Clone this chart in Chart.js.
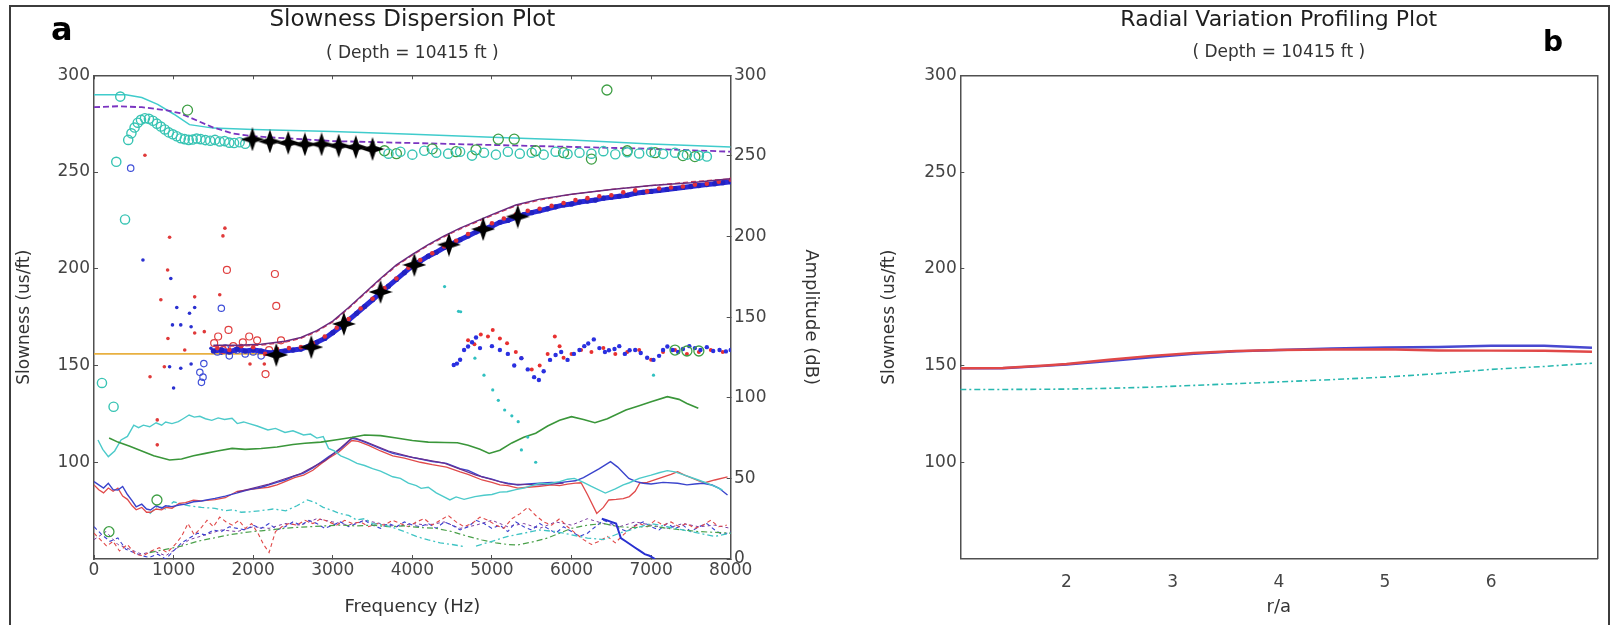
<!DOCTYPE html>
<html>
<head>
<meta charset="utf-8">
<title>Slowness Dispersion and Radial Variation Profiling</title>
<script src="https://cdn.jsdelivr.net/npm/chart.js@4.4.1/dist/chart.umd.min.js"></script>
<style>
  html, body { margin: 0; padding: 0; background: #ffffff; }
  #wrap { position: relative; width: 1610px; height: 625px; overflow: hidden; background: #fff; }
  canvas { position: absolute; top: 0; }
  #frame { position: absolute; left: 9px; top: 5px; width: 1597px; height: 660px; border: 2px solid #3c3c3c; pointer-events: none; }
  .panel { position: absolute; font-family: 'DejaVu Sans', sans-serif; font-weight: bold; color: #000; line-height: 1; }
</style>
</head>
<body>
<div id="wrap">
  <canvas id="disp" width="860" height="625" style="left:0"></canvas>
  <canvas id="radial" width="750" height="625" style="left:860px"></canvas>
  <div id="frame"></div>
  <div class="panel" style="left:51px; top:13px; font-size:32px;">a</div>
  <div class="panel" style="left:1543px; top:28px; font-size:28px;">b</div>
</div>
<script>
// ---------- Slowness dispersion: slowness (us/ft) vs frequency (Hz) ----------
// Model curve of the upper (fast) mode, solid cyan
const upperModelF = [0, 400, 600, 800, 1000, 1200, 1500, 2000, 3000, 4000, 5000, 6000, 7000, 8000];
const upperModelS = [290, 290, 288.5, 285, 280, 274.5, 272.7, 272, 271, 269.5, 268, 266.5, 264.5, 263];
// Model curve of the upper mode, dashed purple
const upperDashF = [0, 300, 600, 900, 1080, 1300, 1500, 1735, 2000, 3000, 4000, 5000, 6000, 7000, 8000];
const upperDashS = [283.5, 284, 283.5, 282, 280.4, 276.5, 273, 270, 268.5, 266, 265, 264, 263, 262, 260.5];

// Open-circle picks, cyan
const cyanCircF = [100, 246, 280, 330, 390, 430, 470, 510, 550, 590, 640, 690, 740, 790, 840, 890, 940, 990, 1040, 1090, 1140, 1190, 1240, 1290, 1340, 1400, 1460, 1520, 1580, 1640, 1700, 1760, 1830, 1900,
  3700, 3850, 4000, 4150, 4300, 4450, 4600, 4750, 4900, 5050, 5200, 5350, 5500, 5650, 5800, 5950, 6100, 6250, 6400, 6550, 6700, 6850, 7000, 7150, 7300, 7450, 7600, 7700];
const cyanCircS = [141, 128.7, 255.3, 289, 225.5, 266.6, 270, 273, 275.5, 277, 277.8, 277.5, 276.5, 275, 273.5, 272, 270.5, 269.5, 268.5, 267.5, 267, 266.6, 266.8, 267.3, 267, 266.5, 266.2, 266.6, 265.8, 266, 265.2, 265, 265.4, 264.6,
  259.5, 260.5, 259, 261, 260, 259.5, 260.5, 258.5, 260, 259, 260.5, 259.5, 260, 259, 260.5, 259.3, 260, 259.5, 260.8, 259.2, 260.2, 259.6, 260.3, 259.4, 260, 259, 258.5, 258];
// Open-circle picks, green
const greenCircF = [188, 791, 1175, 3650, 3800, 4250, 4550, 4800, 5080, 5280, 5550, 5900, 6250, 6445, 6700, 7050, 7400, 7550, 7300, 7450, 7600];
const greenCircS = [64.1, 80.5, 282, 261, 259.5, 262, 260.5, 261.5, 267, 267, 261, 260, 256.7, 292.4, 261, 260, 258.5, 258, 158, 157.5, 157.5];

// Picked slowness, black stars (upper and lower mode)
const starUpperF = [1990, 2210, 2440, 2650, 2860, 3075, 3290, 3500];
const starUpperS = [266.9, 265.8, 265.1, 264.3, 264.3, 263.6, 262.9, 261.9];
const starLowerF = [2290, 2730, 3140, 3600, 4025, 4460, 4890, 5325];
const starLowerS = [155.5, 159.5, 171.5, 188, 202, 212.5, 220.5, 227];

// Lower (flexural) mode model curves
const lowModelF = [1500, 1800, 2100, 2400, 2600, 2800, 3000, 3200, 3400, 3600, 3800, 4000, 4200, 4400, 4600, 4800, 5000, 5300, 5600, 6000, 6500, 7000, 7500, 8000];
const lowModelS = [160.5, 160.5, 161, 162.5, 164.5, 168, 173, 180, 187.5, 195, 202, 207.5, 212.5, 217, 221, 224.5, 228, 233, 236, 238.5, 241, 243, 244.5, 246.5];
const lowModel2S = [160, 160, 160.5, 162, 164, 167.5, 172.5, 179.5, 187, 194.5, 201.5, 207, 212, 216.5, 220.5, 224, 227.5, 232.5, 235.5, 238.5, 241, 243, 245, 246.5];

// Lower mode picks (dense blue band and red picks)
const lowBandF = [1500, 1600, 1700, 1800, 1900, 2000, 2100, 2200, 2300, 2400, 2500, 2600, 2700, 2800, 2900, 3000, 3100, 3200, 3300, 3400, 3500, 3600, 3700, 3800, 3900, 4000, 4100, 4200, 4300, 4400, 4500, 4600, 4700, 4800, 4900, 5000, 5100, 5200, 5300, 5400, 5500, 5600, 5700, 5800, 5900, 6000, 6100, 6200, 6300, 6400, 6500, 6600, 6700, 6800, 6900, 7000, 7100, 7200, 7300, 7400, 7500, 7600, 7700, 7800, 7900, 8000];
const lowBandS = [157.5, 158, 157, 158.5, 157.5, 158, 157.5, 156.5, 157, 157.5, 158, 158.5, 160, 162, 164, 167, 170, 173.5, 177, 180.5, 184, 187.5, 191, 194.5, 198, 201.5, 204, 206.5, 208.5, 211, 213, 215, 217, 219, 220.5, 222, 224, 225, 226.5, 228, 229, 230, 231, 232, 233, 233.5, 234.5, 235, 235.5, 236.5, 237, 237.5, 238, 239, 239.5, 240, 240.5, 241, 241.5, 242, 242.5, 243, 243.5, 244, 244.5, 245];
const lowRedF = [1550, 1700, 1850, 2000, 2150, 2300, 2450, 2600, 2750, 2900, 3050, 3200, 3350, 3500, 3650, 3800, 3950, 4100, 4250, 4400, 4550, 4700, 4850, 5000, 5150, 5300, 5450, 5600, 5750, 5900, 6050, 6200, 6350, 6500, 6650, 6800, 6950, 7100, 7250, 7400, 7550, 7700, 7850, 8000];
const lowRedS = [159, 158, 160, 159.5, 156, 158.5, 159, 159.5, 161.5, 165, 169.5, 174, 179.5, 184.5, 190, 195, 200.5, 204.5, 208, 211.5, 214.5, 218, 221, 223.5, 226, 228, 230, 231, 232.5, 234, 235.5, 236.5, 237.5, 238, 239.5, 240.5, 240, 241.5, 242, 242.5, 243.5, 244, 245, 246];

// Formation shear slowness reference
const shearF = [0, 2300];
const shearS = [156, 156];

// Scattered low-frequency picks
const redDotF = [640, 704, 795, 795, 840, 884, 925, 929, 950, 1140, 1265, 1265, 1386, 1580, 1620, 1645, 1960, 2140];
const redDotS = [258.7, 144.2, 121.9, 109, 184, 149.4, 199.4, 164, 216.3, 158, 185.5, 166.8, 167.5, 186.6, 217, 221, 150.8, 150.8];
const redRingF = [1510, 1560, 1620, 1670, 1690, 1750, 1870, 1950, 2050, 2155, 2200, 2273, 2290, 2350];
const redRingS = [161.6, 165, 158, 199.4, 168.4, 160, 162, 165, 163, 145.6, 158, 197.3, 180.8, 163];
const blueDotF = [615, 950, 965, 986, 1000, 1040, 1090, 1090, 1200, 1220, 1220, 1265, 1470, 1600, 1780];
const blueDotS = [204.5, 149.4, 195, 171, 138.4, 180, 171, 148.6, 177, 170, 150.8, 180, 158.9, 156.4, 157.2];
const blueRingF = [461, 1330, 1350, 1370, 1380, 1600, 1550, 1650, 1700, 1800, 1900, 2000, 2100];
const blueRingS = [252, 146.5, 141.3, 144, 151, 179.6, 157, 159, 155, 158, 156, 157, 155];

// Higher-frequency picks near the shear slowness
const blueMidF = [4520, 4560, 4600, 4650, 4700, 4750, 4800, 4850, 5000, 5100, 5200, 5280, 5370, 5450, 5530, 5590, 5650, 5730, 5800, 5870, 5950, 6030, 6100, 6160, 6210, 6280, 6350, 6420, 6470, 6540, 6600, 6670, 6730, 6800, 6870, 6950, 7030, 7100, 7150, 7204, 7270, 7340, 7400, 7480, 7550, 7620, 7700, 7780, 7860, 7940, 8000];
const blueMidS = [150.3, 151, 153, 158, 159.8, 162, 164.5, 159, 160, 158, 156, 150, 153.8, 148, 144, 142.5, 147, 152.9, 155.4, 157, 152.9, 156, 158, 160, 161.4, 163.5, 159, 157, 157.9, 158.5, 160, 156, 157.9, 158, 156.5, 154, 152.9, 155, 158, 159.8, 158, 157, 158.5, 160, 159, 158, 159.5, 157.5, 158, 157.3, 158];
const redMidF = [4700, 4780, 4860, 4950, 5010, 5100, 5190, 5300, 5370, 5500, 5600, 5700, 5790, 5850, 5900, 6000, 6120, 6250, 6400, 6550, 6700, 6850, 7000, 7150, 7300, 7450, 7600, 7750, 7900];
const redMidS = [163, 161, 166, 165, 168.4, 164, 161.5, 157, 153.8, 148, 150, 156, 165, 160, 154, 156, 158, 157, 159, 156, 157, 158, 153, 157, 158, 156, 157, 158, 157];
const cyanDotF = [4405, 4580, 4607, 4786, 4900, 5010, 5080, 5160, 5250, 5330, 5370, 5450, 5550, 7030];
const cyanDotS = [190.8, 178, 177.8, 153.8, 145, 137.4, 132, 127, 124, 121, 106.4, 113, 100, 145];

// ---------- Amplitude (dB) vs frequency ----------
const greenAmpF = [190, 300, 450, 600, 750, 950, 1100, 1250, 1400, 1550, 1735, 1900, 2100, 2300, 2500, 2650, 2850, 3050, 3250, 3400, 3600, 3800, 4000, 4200, 4400, 4565, 4700, 4850, 4965, 5100, 5250, 5400, 5550, 5700, 5850, 6000, 6150, 6294, 6450, 6683, 6850, 7000, 7204, 7350, 7450, 7593];
const greenAmpA = [75, 72.5, 70, 67, 64, 61.4, 62, 64, 65.5, 67, 68.6, 68, 68.5, 69.5, 71, 71.8, 72.5, 74, 75.5, 76.9, 76.5, 75, 73.5, 72.5, 72.3, 72.1, 70.5, 68, 65.5, 67.5, 72, 75.5, 78, 82.5, 86, 88.3, 86.5, 84.5, 87, 92.4, 95, 97.5, 100.7, 99, 96.5, 93.5];
const cyanAmpF = [50, 110, 180, 260, 340, 420, 500, 560, 620, 700, 780, 850, 900, 980, 1060, 1120, 1195, 1260, 1330, 1400, 1480, 1560, 1640, 1735, 1800, 1880, 1950, 2050, 2185, 2280, 2400, 2500, 2633, 2720, 2800, 2880, 2947, 3020, 3100, 3200, 3305, 3400, 3500, 3600, 3754, 3850, 3950, 4050, 4110, 4200, 4300, 4380, 4472, 4550, 4650, 4786, 4900, 5000, 5100, 5190, 5300, 5400, 5500, 5600, 5700, 5850, 5950, 6035, 6150, 6250, 6425, 6550, 6650, 6727, 6850, 7000, 7100, 7204, 7300, 7420, 7593, 7700, 7800, 7896];
const cyanAmpA = [73.8, 68, 63.5, 67, 73.8, 76, 83, 81.5, 83, 82, 84.5, 83, 85, 84, 85.2, 87, 89.3, 88, 88.5, 87, 86, 87.5, 86.5, 87.3, 84, 85, 84, 82.5, 80, 81, 78.5, 79.5, 76.9, 77.5, 75, 76, 68.6, 67, 64, 62, 59.3, 58, 56, 54.5, 51, 50, 47, 45.5, 43.8, 44.5, 41, 39, 36.6, 38.5, 37, 38.7, 39.5, 40, 41.5, 41.7, 43, 44, 45.5, 47, 46.5, 48, 49.5, 50, 47.5, 45, 40.9, 43.5, 46, 47.3, 50, 52, 53.5, 54.8, 54, 52, 49, 47, 45, 42.8];
const blueAmpF = [0, 60, 120, 180, 240, 300, 360, 420, 480, 530, 600, 660, 710, 780, 850, 900, 980, 1070, 1150, 1250, 1350, 1450, 1520, 1650, 1800, 1950, 2100, 2190, 2300, 2400, 2520, 2633, 2750, 2850, 2950, 3080, 3160, 3240, 3320, 3450, 3600, 3754, 3900, 4100, 4250, 4430, 4600, 4700, 4876, 5000, 5100, 5200, 5326, 5450, 5600, 5750, 5850, 5950, 6050, 6150, 6250, 6350, 6490, 6580, 6650, 6720, 6814, 6900, 7000, 7150, 7333, 7450, 7550, 7650, 7766, 7850, 7960];
const blueAmpA = [48, 46, 44, 47, 43, 42.8, 45, 40, 36, 32.4, 34, 31, 30.4, 33, 31.5, 33, 32.5, 33.5, 34, 35.5, 36, 37, 37.6, 39, 41, 43, 44.5, 45.9, 47.5, 49, 51.5, 53.2, 56.5, 60, 63.5, 67.6, 71, 74.9, 74, 71.5, 68.5, 65.5, 64, 62, 60.5, 59.3, 56, 55, 51, 49.5, 48, 47, 45.9, 46.5, 47, 47.5, 47.3, 48, 48.5, 50.5, 53.2, 56, 60.4, 57, 53.5, 50, 48, 47, 46.5, 47.5, 47, 46, 46.5, 47, 45.9, 44, 39.7];
const redAmpF = [0, 60, 120, 180, 240, 300, 360, 420, 480, 530, 600, 660, 710, 780, 850, 900, 980, 1070, 1150, 1250, 1350, 1450, 1520, 1650, 1800, 1950, 2100, 2190, 2300, 2400, 2520, 2633, 2750, 2850, 2950, 3080, 3160, 3240, 3320, 3450, 3600, 3754, 3900, 4100, 4250, 4430, 4600, 4700, 4876, 5000, 5100, 5200, 5326, 5450, 5600, 5750, 5850, 5950, 6050, 6120, 6200, 6317, 6400, 6468, 6560, 6650, 6727, 6800, 6860, 6950, 7100, 7250, 7333, 7420, 7500, 7600, 7676, 7800, 7960];
const redAmpA = [46, 43, 41, 44, 42, 44, 39, 37, 33, 30.5, 32, 29, 29, 31, 30.5, 32, 31.5, 34.5, 35, 36.5, 36, 36.5, 36.8, 38, 42, 43, 44, 44.5, 46, 48, 50.5, 52, 55, 59, 62.5, 66.5, 70, 73.5, 73, 70.5, 67, 64, 62.5, 60, 58.5, 57, 54, 52.5, 49, 47.5, 46, 45.5, 44, 44.5, 45, 46, 45.5, 46.5, 47, 47.3, 40, 28.3, 32, 36.6, 37, 37.5, 38.7, 42, 47.3, 47.5, 50, 52.5, 54.2, 52, 50.5, 48.5, 47.3, 49, 51];
const purpleAmpF = [1800, 2200, 2600, 2900, 3100, 3250, 3400, 3700, 4000, 4400, 4800, 5200, 5600, 5900];
const purpleAmpA = [41.5, 46.5, 53, 61, 69, 75.5, 73, 67, 63, 59.5, 52, 46.5, 46, 47];
const cyanDashF = [700, 800, 900, 1000, 1100, 1200, 1350, 1520, 1650, 1750, 1850, 1960, 2100, 2250, 2410, 2550, 2680, 2780, 2880, 3000, 3080, 3200, 3300, 3400, 3500, 3650, 3754, 3900, 4050, 4200, 4350, 4500, 4650];
const cyanDashA = [28, 33, 31, 35.5, 34, 33, 32, 31.4, 30, 30.5, 29, 29.3, 30, 31, 29.9, 33, 36.6, 35, 32, 30, 28.3, 27, 24.2, 25, 22, 21, 19.6, 17, 14, 11.8, 10, 9, 7.7];
const cyanDash2F = [4800, 5000, 5200, 5400, 5600, 5800, 6000, 6200, 6400, 6600, 6800, 7000, 7200, 7400, 7600, 7800, 8000];
const cyanDash2A = [8, 11, 14, 16, 18, 17, 15, 13, 12, 16, 19, 22, 20, 18, 16, 14, 16];
const greenDashF = [700, 900, 1100, 1300, 1500, 1700, 1900, 2100, 2300, 2500, 2700, 2900, 3100, 3300, 3500, 3700, 3900, 4100, 4300, 4500, 4700, 4876, 5050, 5200, 5326, 5500, 5700, 5850, 6000, 6200, 6400, 6600, 6800, 7000, 7200, 7400, 7600, 7800, 8000];
const greenDashA = [4, 6, 8, 11, 13, 15, 16.5, 17.5, 18.5, 19.5, 20, 20.5, 21, 20.5, 21, 20, 20.5, 19.5, 19, 17, 14, 11.8, 10, 9, 8.7, 10.5, 13, 16, 19, 21, 22, 20, 19.5, 20.5, 19, 18, 17, 16.5, 16];
const redDashF = [0, 80, 160, 240, 320, 420, 520, 620, 720, 820, 920, 1020, 1100, 1180, 1260, 1340, 1420, 1500, 1580, 1660, 1740, 1820, 1900, 1980, 2060, 2130, 2200, 2280, 2360, 2450, 2550, 2650, 2750, 2850, 2950, 3050, 3150, 3250, 3350, 3450, 3550, 3650, 3750, 3850, 3950, 4050, 4150, 4250, 4350, 4450, 4550, 4650, 4750, 4850, 4950, 5050, 5150, 5250, 5350, 5450, 5550, 5650, 5750, 5850, 5950, 6050, 6150, 6250, 6350, 6450, 6550, 6650, 6750, 6850, 6950, 7050, 7150, 7250, 7350, 7450, 7550, 7650, 7750, 7850, 7950];
const redDashA = [16, 12, 8, 11, 5, 9, 3, 2, 5, 7, 4, 9, 14, 22, 15, 19, 24, 20, 26, 23, 21, 24, 19, 22, 16, 9, 4, 17, 20, 22, 21, 24, 22, 25, 23, 21, 24, 22, 23, 20, 22, 21, 24, 22, 20, 23, 25, 21, 24, 27, 23, 20, 22, 26, 24, 21, 19, 25, 28, 32, 27, 23, 21, 25, 20, 16, 12, 9, 11, 14, 10, 15, 19, 22, 20, 24, 21, 23, 20, 22, 19, 21, 24, 20, 21];
const blueDashF = [0, 100, 200, 300, 400, 500, 600, 700, 800, 900, 1000, 1100, 1200, 1300, 1400, 1500, 1600, 1700, 1800, 1900, 2000, 2100, 2200, 2300, 2400, 2500, 2600, 2700, 2800, 2900, 3000, 3100, 3200, 3300, 3400, 3500, 3600, 3700, 3800, 3900, 4000, 4100, 4200, 4300, 4400, 4500, 4600, 4700, 4800, 4900, 5000, 5100, 5200, 5300, 5400, 5500, 5600, 5700, 5800, 5900, 6000, 6100, 6200, 6300, 6400, 6500, 6600, 6700, 6800, 6900, 7000, 7100, 7200, 7300, 7400, 7500, 7600, 7700, 7800, 7900, 8000];
const blueDashA = [20, 15, 11, 13, 6, 4, 2, 1, 3, 0, 5, 10, 13, 16, 15, 18, 17, 20, 19, 18, 21, 19, 22, 18, 20, 23, 21, 24, 22, 19, 21, 23, 20, 22, 24, 21, 19, 22, 20, 23, 21, 20, 22, 19, 23, 21, 18, 20, 24, 22, 19, 21, 17, 23, 20, 18, 22, 19, 16, 20, 17, 14, 16, 20, 24, 22, 19, 17, 21, 23, 20, 18, 22, 19, 21, 17, 20, 22, 18, 15, 17];
const purpleDashF = [0, 150, 300, 450, 600, 750, 900, 1050, 1200, 1400, 1600, 1800, 2000, 2200, 2400, 2600, 2800, 3000, 3200, 3400, 3600, 3800, 4000, 4200, 4400, 4600, 4800, 5000, 5200, 5400, 5600, 5800, 6000, 6200, 6400, 6600, 6800, 7000, 7200, 7400, 7600, 7800, 8000];
const purpleDashA = [12, 17, 9, 6, 3, 5, 2, 7, 12, 15, 18, 17, 20, 19, 22, 21, 25, 23, 21, 24, 22, 20, 22, 21, 23, 19, 21, 24, 20, 22, 19, 23, 21, 25, 22, 20, 23, 21, 19, 22, 20, 21, 19];
const blueTailF = [6380, 6440, 6500, 6560, 6620, 6680, 6740, 6800, 6860, 6920, 6980, 7050];
const blueTailA = [25, 24, 23, 22, 13, 11, 9, 7, 5, 3, 2, 0];

// Axis tick values
const freqTicks = [0, 1000, 2000, 3000, 4000, 5000, 6000, 7000, 8000];
const slowTicks = [100, 150, 200, 250, 300];
const ampTicks = [0, 50, 100, 150, 200, 250, 300];

// ---------- Radial variation profile: slowness vs r/a ----------
const radialR = [1, 1.4, 1.8, 2, 2.4, 2.8, 3.2, 3.6, 4, 4.5, 5, 5.5, 6, 6.5, 6.95];
const radialRed = [148.6, 148.7, 150, 150.8, 153, 155, 156.5, 157.5, 158, 158.3, 158.4, 157.8, 157.7, 157.6, 157.1];
const radialBlue = [148.6, 148.6, 149.8, 150.5, 152.3, 154.2, 156, 157.3, 158, 158.8, 159.3, 159.6, 160.2, 160.2, 159.2];
const radialCyan = [137.6, 137.6, 137.7, 137.8, 138.2, 138.8, 139.7, 140.6, 141.5, 142.7, 144, 145.8, 148, 149.5, 151.2];
const radialTicks = [2, 3, 4, 5, 6];

// ---------- helpers ----------
const FONT = "'DejaVu Sans', sans-serif";
Chart.defaults.font.family = FONT;
Chart.defaults.color = '#444';

const pts = (xs, ys) => xs.map((x, i) => ({ x: x, y: ys[i] }));

function lineSet(xs, ys, color, width, dash, axis) {
  return { data: pts(xs, ys), showLine: true, borderColor: color, borderWidth: width,
           borderDash: dash || [], pointRadius: 0, yAxisID: axis || 'y', tension: 0 };
}
function dotSet(xs, ys, color, r) {
  return { data: pts(xs, ys), showLine: false, pointRadius: r, pointStyle: 'circle',
           backgroundColor: color, borderColor: color, borderWidth: 0, yAxisID: 'y' };
}
function ringSet(xs, ys, color, r, w) {
  return { data: pts(xs, ys), showLine: false, pointRadius: r, pointStyle: 'circle',
           backgroundColor: 'rgba(0,0,0,0)', borderColor: color, borderWidth: w, yAxisID: 'y' };
}

// Filled four-point star marker
function starMarker(size) {
  const c = document.createElement('canvas');
  c.width = size; c.height = size;
  const g = c.getContext('2d');
  const r = size / 2, ri = r * 0.36;
  g.beginPath();
  for (let k = 0; k < 8; k++) {
    const ang = k * Math.PI / 4 - Math.PI / 2;
    const rr = (k % 2 === 0) ? r : ri;
    g.lineTo(r + rr * Math.cos(ang), r + rr * Math.sin(ang));
  }
  g.closePath();
  g.fillStyle = '#000';
  g.fill();
  return c;
}
const STAR = starMarker(24);

const axisLine = { display: true, color: '#505050', width: 1.5 };
const innerTicks = { display: true, drawOnChartArea: false, drawTicks: true, tickLength: -4, color: '#505050', lineWidth: 1 };
const tickFont = { family: FONT, size: 17 };
const titleFont = (s) => ({ family: FONT, size: s, weight: 'normal' });
const fromList = (list) => (scale) => { scale.ticks = list.map(v => ({ value: v })); };
const plain = (v) => String(v);

// ---------- chart a ----------
new Chart(document.getElementById('disp'), {
  type: 'scatter',
  data: {
    datasets: [
      { data: pts(starUpperF, starUpperS), pointStyle: STAR, pointRadius: 12, yAxisID: 'y' },
      { data: pts(starLowerF, starLowerS), pointStyle: STAR, pointRadius: 12, yAxisID: 'y' },
      lineSet(lowModelF, lowModelS, '#6a2a7e', 1.5),
      lineSet(lowModelF, lowModel2S, '#d83a55', 1.2, [5, 3]),
      dotSet(lowRedF, lowRedS, '#e0303a', 2.3),
      Object.assign(lineSet(lowBandF, lowBandS, '#2a2ad8', 5), { pointRadius: 2.6, pointBackgroundColor: '#2222c0', pointBorderWidth: 0 }),
      ringSet(cyanCircF, cyanCircS, '#38c4b4', 4.6, 1.4),
      ringSet(greenCircF, greenCircS, '#3f9f45', 5, 1.3),
      lineSet(upperDashF, upperDashS, '#7a34c0', 1.8, [6, 3]),
      lineSet(upperModelF, upperModelS, '#40cccc', 1.5),
      ringSet(redRingF, redRingS, '#e04040', 3.5, 1.2),
      ringSet(blueRingF, blueRingS, '#4050d8', 3.2, 1.2),
      dotSet(redDotF, redDotS, '#e03a3a', 1.8),
      dotSet(blueDotF, blueDotS, '#2a30d0', 1.8),
      dotSet(blueMidF, blueMidS, '#2a30e0', 2.2),
      dotSet(redMidF, redMidS, '#e83030', 2),
      dotSet(cyanDotF, cyanDotS, '#30c0c0', 1.6),
      lineSet(shearF, shearS, '#e8b040', 1.6),
      lineSet(greenAmpF, greenAmpA, '#3a963a', 1.6, null, 'yA'),
      lineSet(cyanAmpF, cyanAmpA, '#4ccaca', 1.4, null, 'yA'),
      lineSet(purpleAmpF, purpleAmpA, '#6a3090', 1.2, null, 'yA'),
      lineSet(blueAmpF, blueAmpA, '#3a44cc', 1.4, null, 'yA'),
      lineSet(redAmpF, redAmpA, '#e04a4a', 1.3, null, 'yA'),
      lineSet(blueTailF, blueTailA, '#2830d0', 2, null, 'yA'),
      lineSet(cyanDashF, cyanDashA, '#40c4c4', 1.3, [6, 3, 2, 3], 'yA'),
      lineSet(cyanDash2F, cyanDash2A, '#40c4c4', 1.3, [6, 3, 2, 3], 'yA'),
      lineSet(greenDashF, greenDashA, '#4aa04a', 1.2, [6, 3, 2, 3], 'yA'),
      lineSet(redDashF, redDashA, '#e04848', 1.1, [4, 3], 'yA'),
      lineSet(blueDashF, blueDashA, '#3a40d0', 1.1, [4, 3], 'yA'),
      lineSet(purpleDashF, purpleDashA, '#7a3aa0', 1.0, [3, 3], 'yA')
    ]
  },
  options: {
    responsive: false,
    animation: false,
    events: [],
    layout: { padding: { left: 0, right: 29.3, top: 0, bottom: 0 } },
    plugins: {
      legend: { display: false },
      tooltip: { enabled: false },
      title: { display: true, fullSize: false, text: 'Slowness Dispersion Plot', color: '#1e1e1e',
               font: titleFont(23), padding: { top: 6.2, bottom: 0 } },
      subtitle: { display: true, fullSize: false, text: '( Depth = 10415 ft )', color: '#333',
                  font: titleFont(17), padding: { top: 10, bottom: 11.1 } }
    },
    scales: {
      x: { type: 'linear', position: 'bottom', min: 0, max: 8000,
           afterBuildTicks: fromList(freqTicks),
           ticks: { font: tickFont, padding: 5.5, maxRotation: 0, autoSkip: false, color: '#444', callback: plain },
           grid: innerTicks, border: axisLine,
           title: { display: true, text: 'Frequency (Hz)', color: '#333', font: titleFont(18), padding: { top: 0, bottom: 7.2 } },
           afterFit: (s) => { s.height = 66; } },
      xTop: { type: 'linear', position: 'top', min: 0, max: 8000,
              afterBuildTicks: fromList(freqTicks),
              ticks: { display: false }, grid: innerTicks, border: axisLine,
              afterFit: (s) => { s.height = 0; } },
      y: { type: 'linear', position: 'left', min: 50, max: 300,
           afterBuildTicks: fromList(slowTicks),
           ticks: { font: tickFont, padding: 8, color: '#444', callback: plain },
           grid: innerTicks, border: axisLine,
           title: { display: true, text: 'Slowness (us/ft)', color: '#333', font: titleFont(17), padding: { top: 14.8, bottom: 0 } },
           afterFit: (s) => { s.width = 94; } },
      yA: { type: 'linear', position: 'right', min: 0, max: 300,
            afterBuildTicks: fromList(ampTicks),
            ticks: { font: tickFont, padding: 7.3, color: '#444', callback: plain },
            grid: innerTicks, border: axisLine,
            title: { display: true, text: 'Amplitude (dB)', color: '#333', font: titleFont(18), padding: { top: 8.9, bottom: 0 } },
            afterFit: (s) => { s.width = 100; } }
    }
  }
});

// ---------- chart b ----------
new Chart(document.getElementById('radial'), {
  type: 'scatter',
  data: {
    datasets: [
      lineSet(radialR, radialRed, '#e04848', 2.4),
      lineSet(radialR, radialBlue, '#4848d0', 2.4),
      lineSet(radialR, radialCyan, '#28b8b0', 1.6, [6, 3, 2, 3])
    ]
  },
  options: {
    responsive: false,
    animation: false,
    events: [],
    layout: { padding: { left: 0, right: 12.7, top: 0, bottom: 0 } },
    plugins: {
      legend: { display: false },
      tooltip: { enabled: false },
      title: { display: true, fullSize: false, text: 'Radial Variation Profiling Plot', color: '#1e1e1e',
               font: titleFont(22), padding: { top: 6.8, bottom: 0 } },
      subtitle: { display: true, fullSize: false, text: '( Depth = 10415 ft )', color: '#333',
                  font: titleFont(17), padding: { top: 9.1, bottom: 13 } }
    },
    scales: {
      x: { type: 'linear', position: 'bottom', min: 1, max: 7,
           afterBuildTicks: fromList(radialTicks),
           ticks: { font: tickFont, padding: 5.5, maxRotation: 0, autoSkip: false, color: '#444', callback: plain },
           grid: { display: false }, border: axisLine,
           title: { display: true, text: 'r/a', color: '#333', font: titleFont(18), padding: { top: 0, bottom: 7.2 } },
           afterFit: (s) => { s.height = 66.3; } },
      xTop: { type: 'linear', position: 'top', min: 1, max: 7,
              ticks: { display: false }, grid: { display: false }, border: axisLine,
              afterFit: (s) => { s.height = 0; } },
      y: { type: 'linear', position: 'left', min: 50, max: 300,
           afterBuildTicks: fromList(slowTicks),
           ticks: { font: tickFont, padding: 7.6, color: '#444', callback: plain },
           grid: innerTicks, border: axisLine,
           title: { display: true, text: 'Slowness (us/ft)', color: '#333', font: titleFont(17), padding: { top: 19.8, bottom: 0 } },
           afterFit: (s) => { s.width = 100.3; } },
      y2: { type: 'linear', position: 'right', min: 50, max: 300,
            ticks: { display: false }, grid: { display: false }, border: axisLine,
            afterFit: (s) => { s.width = 0; } }
    }
  }
});
</script>
</body>
</html>
